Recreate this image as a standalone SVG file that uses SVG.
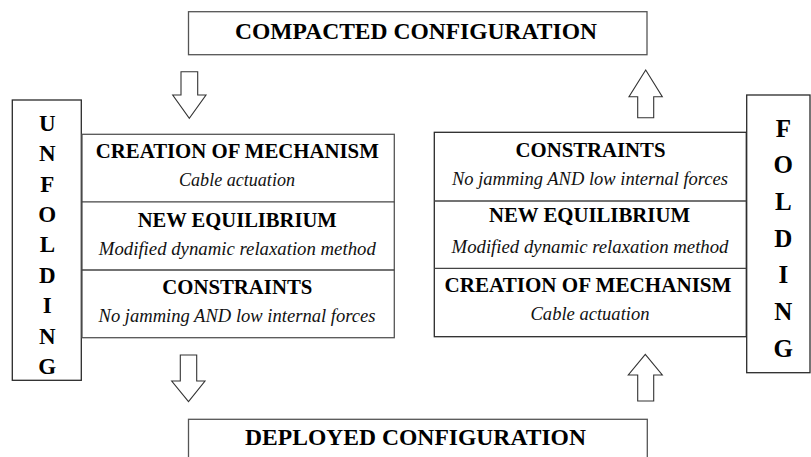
<svg xmlns="http://www.w3.org/2000/svg" width="811" height="457" viewBox="0 0 811 457" font-family="Liberation Serif, Times New Roman, Times, DejaVu Serif, serif">
<style>
.bg{fill:#ffffff}
.box{fill:#ffffff;stroke:#555555;stroke-width:1.3}
.boxd{fill:#ffffff;stroke:#2a2a2a;stroke-width:1.3}
.div{stroke:#444444;stroke-width:1.3;fill:none}
text{font-family:"Liberation Serif","Times New Roman",Times,"DejaVu Serif",serif}
.t{font-weight:bold;fill:#000;text-anchor:middle}
.title{font-size:23px}
.head{font-size:20.5px}
.it{font-style:italic;font-size:18px;fill:#111;text-anchor:middle}
.vl{font-size:23px}
.vr{font-size:25px}
.arrow{fill:#ffffff;stroke:#333333;stroke-width:1.1;stroke-linejoin:miter}
</style>
<rect class="bg" x="0" y="0" width="811" height="457"/>

<g id="compacted">
<rect class="box" x="188.5" y="11.7" width="458.5" height="43"/>
<text class="t title" x="416" y="38.5" textLength="362" lengthAdjust="spacingAndGlyphs">COMPACTED CONFIGURATION</text>
</g>

<g id="deployed">
<rect class="box" x="188.5" y="419.3" width="458.8" height="50"/>
<text class="t title" x="415.5" y="445" textLength="341" lengthAdjust="spacingAndGlyphs">DEPLOYED CONFIGURATION</text>
</g>

<g id="unfolding">
<rect class="boxd" x="12.3" y="100" width="69" height="280.3"/>
<text class="t vl" x="47.3" y="130.7">U</text>
<text class="t vl" x="47.3" y="161.1">N</text>
<text class="t vl" x="47.3" y="191.5">F</text>
<text class="t vl" x="47.3" y="221.9">O</text>
<text class="t vl" x="47.3" y="252.3">L</text>
<text class="t vl" x="47.3" y="282.7">D</text>
<text class="t vl" x="47.3" y="313.1">I</text>
<text class="t vl" x="47.3" y="343.5">N</text>
<text class="t vl" x="47.3" y="373.9">G</text>
</g>

<g id="unfold-steps">
<rect class="box" x="82" y="134.3" width="312.3" height="203.4"/>
<line class="div" x1="82" y1="201.8" x2="394.3" y2="201.8"/>
<line class="div" x1="82" y1="270" x2="394.3" y2="270"/>
<text class="t head" x="237.3" y="157.5" textLength="283" lengthAdjust="spacingAndGlyphs">CREATION OF MECHANISM</text>
<text class="it" x="237" y="186" textLength="116" lengthAdjust="spacingAndGlyphs">Cable actuation</text>
<text class="t head" x="237.2" y="226.5" textLength="199" lengthAdjust="spacingAndGlyphs">NEW EQUILIBRIUM</text>
<text class="it" x="237.3" y="255" textLength="277" lengthAdjust="spacingAndGlyphs">Modified dynamic relaxation method</text>
<text class="t head" x="237.3" y="294" textLength="150" lengthAdjust="spacingAndGlyphs">CONSTRAINTS</text>
<text class="it" x="237" y="321.7" textLength="277" lengthAdjust="spacingAndGlyphs">No jamming AND low internal forces</text>
</g>

<g id="folding">
<rect class="boxd" x="746.7" y="95" width="63.3" height="277.7"/>
<text class="t vr" x="783.3" y="136.7">F</text>
<text class="t vr" x="783.3" y="173.4">O</text>
<text class="t vr" x="783.3" y="210">L</text>
<text class="t vr" x="783.3" y="246.7">D</text>
<text class="t vr" x="783.3" y="283.4">I</text>
<text class="t vr" x="783.3" y="320">N</text>
<text class="t vr" x="783.3" y="356.7">G</text>
</g>

<g id="fold-steps">
<rect class="boxd" x="434.3" y="132.3" width="312" height="204.4"/>
<line class="div" x1="434.3" y1="201" x2="746.3" y2="201"/>
<line class="div" x1="434.3" y1="268.4" x2="746.3" y2="268.4"/>
<text class="t head" x="590.5" y="156.7" textLength="150" lengthAdjust="spacingAndGlyphs">CONSTRAINTS</text>
<text class="it" x="590" y="184.5" textLength="276" lengthAdjust="spacingAndGlyphs">No jamming AND low internal forces</text>
<text class="t head" x="589.5" y="221.5" textLength="201" lengthAdjust="spacingAndGlyphs">NEW EQUILIBRIUM</text>
<text class="it" x="590" y="253" textLength="277" lengthAdjust="spacingAndGlyphs">Modified dynamic relaxation method</text>
<text class="t head" x="588" y="291.5" textLength="287" lengthAdjust="spacingAndGlyphs">CREATION OF MECHANISM</text>
<text class="it" x="590" y="320" textLength="119" lengthAdjust="spacingAndGlyphs">Cable actuation</text>
</g>

<g id="connectors">
<polygon class="arrow" points="181,71.7 197.7,71.7 197.7,95 206,95 189.3,118.3 172.7,95 181,95"/>
<polygon class="arrow" points="180.3,355 196.7,355 196.7,381 205,381 188.5,401.7 171.7,381 180.3,381"/>
<polygon class="arrow" points="645.7,70 662.3,96.7 653.7,96.7 653.7,117.7 637.7,117.7 637.7,96.7 629,96.7"/>
<polygon class="arrow" points="645.3,354.3 662.3,375 653.7,375 653.7,401 637.7,401 637.7,375 628.3,375"/>
</g>
</svg>
